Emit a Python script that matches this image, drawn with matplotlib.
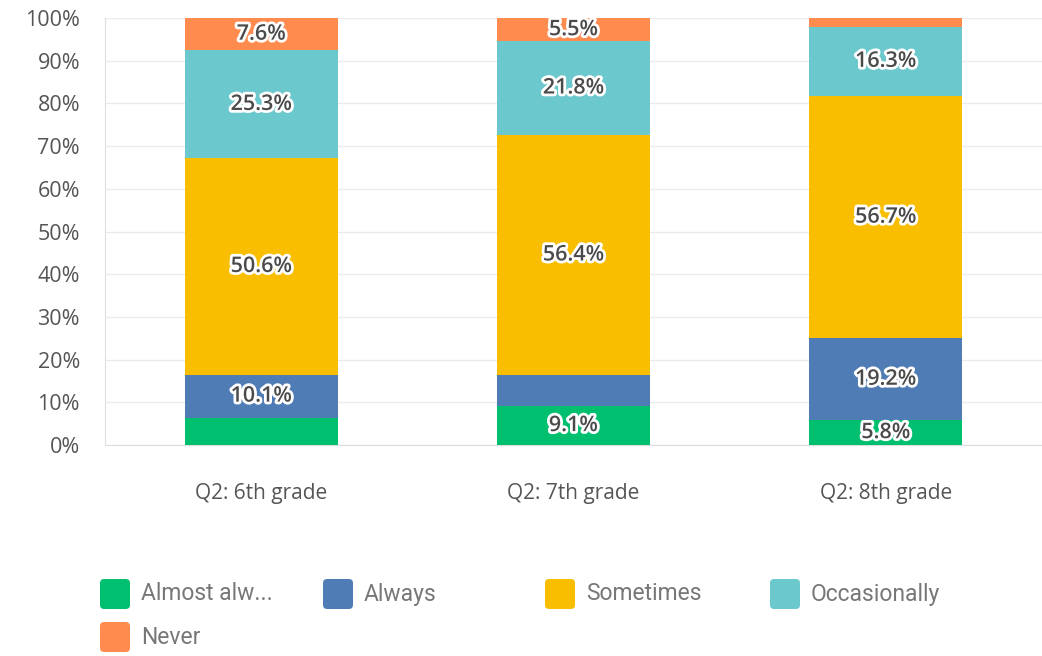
import matplotlib
matplotlib.use("Agg")
import numpy as np
import matplotlib.pyplot as plt
import matplotlib.patheffects as pe
from matplotlib.patches import FancyBboxPatch

plt.rcParams['font.family'] = ['Open Sans', 'DejaVu Sans']

# =========================
# DATA
# =========================
grades = ["Q2: 6th grade", "Q2: 7th grade", "Q2: 8th grade"]
series = ["Almost alw...", "Always", "Sometimes", "Occasionally", "Never"]

almost_always = [6.4, 9.1, 5.8]
always = [10.1, 7.2, 19.2]
sometimes = [50.6, 56.4, 56.7]
occasionally = [25.3, 21.8, 16.3]
never = [7.6, 5.5, 2.0]

# which segments carry a value label
show_almost_always = [False, True, True]
show_always = [True, False, True]
show_sometimes = [True, True, True]
show_occasionally = [True, True, True]
show_never = [True, True, False]

colors = ["#00bf6f", "#507cb6", "#f9be00", "#6bc8cd", "#ff8b4f"]

values = [almost_always, always, sometimes, occasionally, never]
shows = [show_almost_always, show_always, show_sometimes, show_occasionally, show_never]

# =========================
# PLOT
# =========================
fig = plt.figure(figsize=(10.42, 6.56), dpi=100)
ax = fig.add_axes([0.1008, 0.3216, 0.899, 0.651])

x = np.arange(len(grades))
bottom = np.zeros(len(grades))
for vals, show, col in zip(values, shows, colors):
    vals = np.array(vals)
    ax.bar(x, vals, bottom=bottom, width=0.49, color=col, zorder=3)
    for xi, b, v, s in zip(x, bottom, vals, show):
        if s:
            ax.text(xi, b + v / 2, f"{v:.1f}%", ha="center", va="center",
                    fontsize=15.5, fontweight="semibold", color="#4a4a4a", zorder=4,
                    path_effects=[pe.withStroke(linewidth=4, foreground="white")])
    bottom += vals

ax.set_xlim(-0.5, 2.5)
ax.set_ylim(0, 100)
ax.set_yticks(np.arange(0, 101, 10))
ax.set_yticklabels([f"{t}%" for t in range(0, 101, 10)])
ax.set_xticks(x)
ax.set_xticklabels(grades)
ax.tick_params(axis="y", length=0, pad=18, labelsize=15.5, labelcolor="#555555")
ax.tick_params(axis="x", length=0, pad=27, labelsize=15, labelcolor="#555555")
ax.grid(axis="y", color="#ebebeb", linewidth=1, zorder=0)
for side in ["top", "right"]:
    ax.spines[side].set_visible(False)
ax.spines["left"].set_color("#dddddd")
ax.spines["bottom"].set_color("#dddddd")

# =========================
# LEGEND (manual, fixed column width)
# =========================
col_x = [100, 323, 545, 770]
row_y = [594, 637]
for i, (name, col) in enumerate(zip(series, colors)):
    px = col_x[i % 4]
    py = row_y[i // 4]
    fx = px / 1042
    fy = 1 - py / 656
    sq = FancyBboxPatch((fx, fy - 15 / 656), 30 / 1042, 30 / 656,
                        boxstyle="round,pad=0,rounding_size=0.004",
                        transform=fig.transFigure, facecolor=col,
                        edgecolor="none", mutation_aspect=1042 / 656)
    fig.patches.append(sq)
    fig.text(fx + 41 / 1042, fy, name, ha="left", va="center",
             fontsize=16.5, color="#777777", family=["Roboto", "DejaVu Sans"])

plt.savefig("out.png", dpi=100)
